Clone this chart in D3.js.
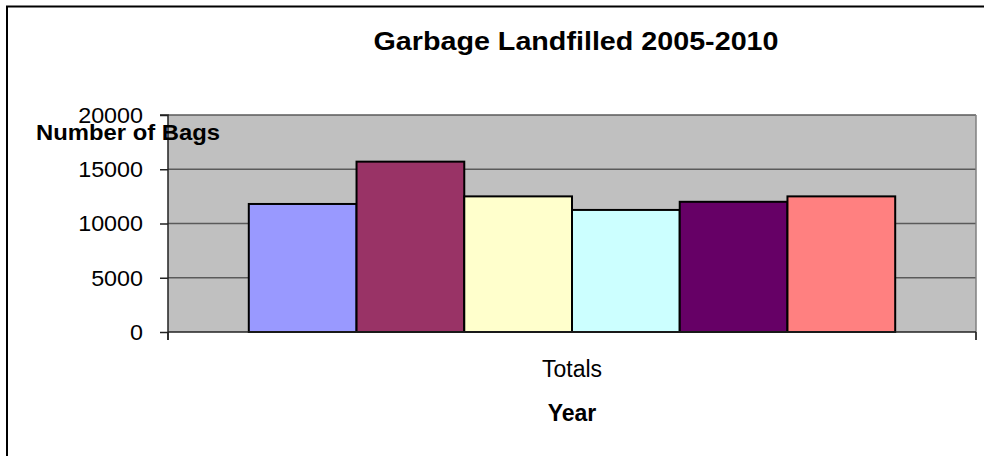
<!DOCTYPE html>
<html>
<head>
<meta charset="utf-8">
<script src="https://cdn.jsdelivr.net/npm/d3@7"></script>
<style>
  html, body { margin: 0; padding: 0; background: #fff; }
  svg { display: block; font-family: Arial, "Liberation Sans", sans-serif; }
</style>
</head>
<body>
<script>
const categories = ["Totals"];
const years = ["2005", "2006", "2007", "2008", "2009", "2010"];
const bags = [11800, 15700, 12500, 11250, 12000, 12500];
const yTicks = [0, 5000, 10000, 15000, 20000];
const colors = ["#9999ff", "#993366", "#ffffcc", "#ccffff", "#660066", "#ff8080"];

const W = 984, H = 456;
const plot = {left: 168, right: 976, top: 115, bottom: 332};

const svg = d3.select("body").append("svg")
  .attr("width", W)
  .attr("height", H);

// chart frame
svg.append("path")
  .attr("d", `M7,${H} V6.5 H${W}`)
  .attr("fill", "none")
  .attr("stroke", "#000")
  .attr("stroke-width", 2);

// excel gap width 150% -> 0.75 bar each side of the group
const x = d3.scaleBand().domain(categories)
  .range([plot.left, plot.right])
  .paddingOuter(0.75 / years.length);
const xs = d3.scaleBand().domain(years).range([0, x.bandwidth()]);
const y = d3.scaleLinear().domain([0, 20000]).range([plot.bottom, plot.top]);

// plot area
svg.append("rect")
  .attr("x", plot.left).attr("y", plot.top)
  .attr("width", plot.right - plot.left)
  .attr("height", plot.bottom - plot.top)
  .attr("fill", "#c0c0c0");

svg.append("g")
  .selectAll("line")
  .data(yTicks.filter(d => d > 0))
  .join("line")
  .attr("x1", plot.left).attr("x2", plot.right)
  .attr("y1", d => y(d)).attr("y2", d => y(d))
  .attr("stroke", "#5a5a5a")
  .attr("stroke-width", 1.5);

svg.append("line")
  .attr("x1", plot.right).attr("x2", plot.right)
  .attr("y1", plot.top).attr("y2", plot.bottom + 8)
  .attr("stroke", "#808080")
  .attr("stroke-width", 1.5);

// bars
const g = svg.append("g").attr("transform", `translate(${x("Totals")},0)`);
g.selectAll("rect")
  .data(years.map((yr, i) => ({yr, v: bags[i], c: colors[i]})))
  .join("rect")
  .attr("x", d => xs(d.yr))
  .attr("y", d => y(d.v))
  .attr("width", xs.bandwidth())
  .attr("height", d => y(0) - y(d.v))
  .attr("fill", d => d.c)
  .attr("stroke", "#000")
  .attr("stroke-width", 2);

// axes
const ay = d3.axisLeft(y).tickValues(yTicks).tickSize(8).tickFormat(d3.format("d"));
const gy = svg.append("g")
  .attr("transform", `translate(${plot.left},0)`)
  .call(ay);
gy.select(".domain").attr("d", `M-8,${plot.top}H0V${plot.bottom + 8}`).attr("stroke", "#222").attr("stroke-width", 1.5);
gy.selectAll(".tick line").attr("stroke", "#222").attr("stroke-width", 1.5);
gy.selectAll(".tick text")
  .attr("x", -25)
  .attr("dy", "0.33em")
  .attr("font-size", 22)
  .attr("font-family", "Arial, 'Liberation Sans', sans-serif")
  .attr("fill", "#000")
  .each(function() {
    d3.select(this)
      .attr("textLength", this.getComputedTextLength() * 1.06)
      .attr("lengthAdjust", "spacingAndGlyphs");
  });

svg.append("line")
  .attr("x1", plot.left).attr("x2", plot.right)
  .attr("y1", plot.bottom).attr("y2", plot.bottom)
  .attr("stroke", "#222").attr("stroke-width", 1.5);

svg.append("g")
  .selectAll("line")
  .data([plot.left, plot.right])
  .join("line")
  .attr("x1", d => d).attr("x2", d => d)
  .attr("y1", plot.bottom).attr("y2", plot.bottom + 8)
  .attr("stroke", "#222").attr("stroke-width", 1.5);

// category label
svg.append("text")
  .attr("x", x("Totals") + x.bandwidth() / 2)
  .attr("y", 377)
  .attr("text-anchor", "middle")
  .attr("font-size", 23)
  .text(categories[0]);

// titles
svg.append("text")
  .attr("x", 576).attr("y", 50)
  .attr("text-anchor", "middle")
  .attr("font-size", 25).attr("font-weight", "bold")
  .attr("textLength", 405).attr("lengthAdjust", "spacingAndGlyphs")
  .text("Garbage Landfilled 2005-2010");

svg.append("text")
  .attr("x", 36).attr("y", 140)
  .attr("font-size", 22).attr("font-weight", "bold")
  .attr("textLength", 184).attr("lengthAdjust", "spacingAndGlyphs")
  .text("Number of Bags");

svg.append("text")
  .attr("x", 572).attr("y", 421)
  .attr("text-anchor", "middle")
  .attr("font-size", 23).attr("font-weight", "bold")
  .text("Year");
</script>
</body>
</html>
